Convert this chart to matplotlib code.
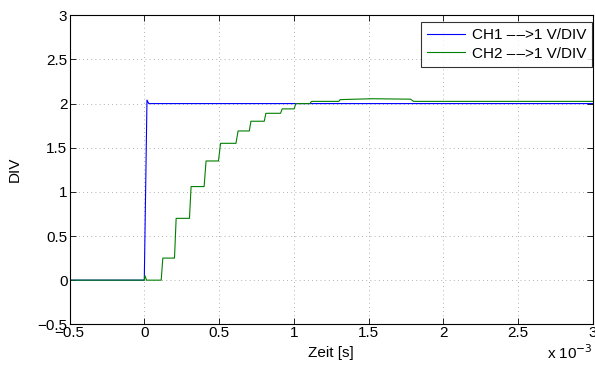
import matplotlib
matplotlib.use("Agg")
import matplotlib.pyplot as plt

plt.rcParams['font.family'] = ['Liberation Sans', 'DejaVu Sans']
plt.rcParams['axes.unicode_minus'] = True

# Time axis in milliseconds (labelled in seconds with a 10^-3 multiplier)
ch1_t = [-0.5, 0.0, 0.018, 0.03, 3.0]
ch1_v = [0.0, 0.0, 2.04, 2.0, 2.0]

ch2_t = [-0.5, 0.0, 0.005, 0.015, 0.113, 0.124, 0.202, 0.213, 0.302, 0.313,
         0.400, 0.413, 0.496, 0.510, 0.613, 0.627, 0.702, 0.713, 0.802, 0.813,
         0.911, 0.922, 1.002, 1.013, 1.107, 1.118, 1.30, 1.31, 1.52, 1.78,
         1.80, 3.0]
ch2_v = [0.0, 0.0, 0.05, 0.0, 0.0, 0.25, 0.25, 0.70, 0.70, 1.06,
         1.06, 1.35, 1.35, 1.55, 1.55, 1.69, 1.69, 1.80, 1.80, 1.89,
         1.89, 1.94, 1.94, 2.0, 2.0, 2.025, 2.025, 2.045, 2.055, 2.05,
         2.025, 2.025]

x_ticks = [-0.5, 0, 0.5, 1, 1.5, 2, 2.5, 3]
x_tick_labels = ['\u22120.5', '0', '0.5', '1', '1.5', '2', '2.5', '3']
y_ticks = [-0.5, 0, 0.5, 1, 1.5, 2, 2.5, 3]
y_tick_labels = ['\u22120.5', '0', '0.5', '1', '1.5', '2', '2.5', '3']

W, H = 595, 371
fig = plt.figure(figsize=(W / 100, H / 100), dpi=100)
ax = fig.add_axes([69.5 / W, (H - 324.3) / H, 523.5 / W, 309 / H])

ax.plot(ch1_t, ch1_v, color='#0000ff', lw=0.8,
        label='CH1 \u2013\u200a\u2013>1 V/DIV')
ax.plot(ch2_t, ch2_v, color='#008000', lw=0.8,
        label='CH2 \u2013\u200a\u2013>1 V/DIV')

ax.set_xlim(-0.5, 3.0)
ax.set_ylim(-0.5, 3.0)
ax.set_xticks(x_ticks)
ax.set_xticklabels(x_tick_labels)
ax.set_yticks(y_ticks)
ax.set_yticklabels(y_tick_labels)
ax.tick_params(direction='in', top=True, right=True, labelsize=11, length=4,
               width=0.6, pad=1.5)
ax.grid(True, linestyle=(0, (1, 4)), color='#999999', linewidth=0.6)
for sp in ax.spines.values():
    sp.set_linewidth(0.8)

ax.set_xlabel('Zeit [s]', fontsize=11, labelpad=4)
ax.set_ylabel('DIV', fontsize=11, labelpad=11)
fig.text(593 / W, 1 - 353 / H, r'x 10$^{-3}$', fontsize=11,
         ha='right', va='center')

leg = ax.legend(loc='upper right', bbox_to_anchor=(0.9985, 0.978),
                fontsize=11, frameon=True, fancybox=False,
                edgecolor='black', borderaxespad=0.0, handlelength=2.5,
                handletextpad=0.45, borderpad=0.4, labelspacing=0.3)
leg.get_frame().set_linewidth(0.8)

fig.savefig('out.png', dpi=100)
